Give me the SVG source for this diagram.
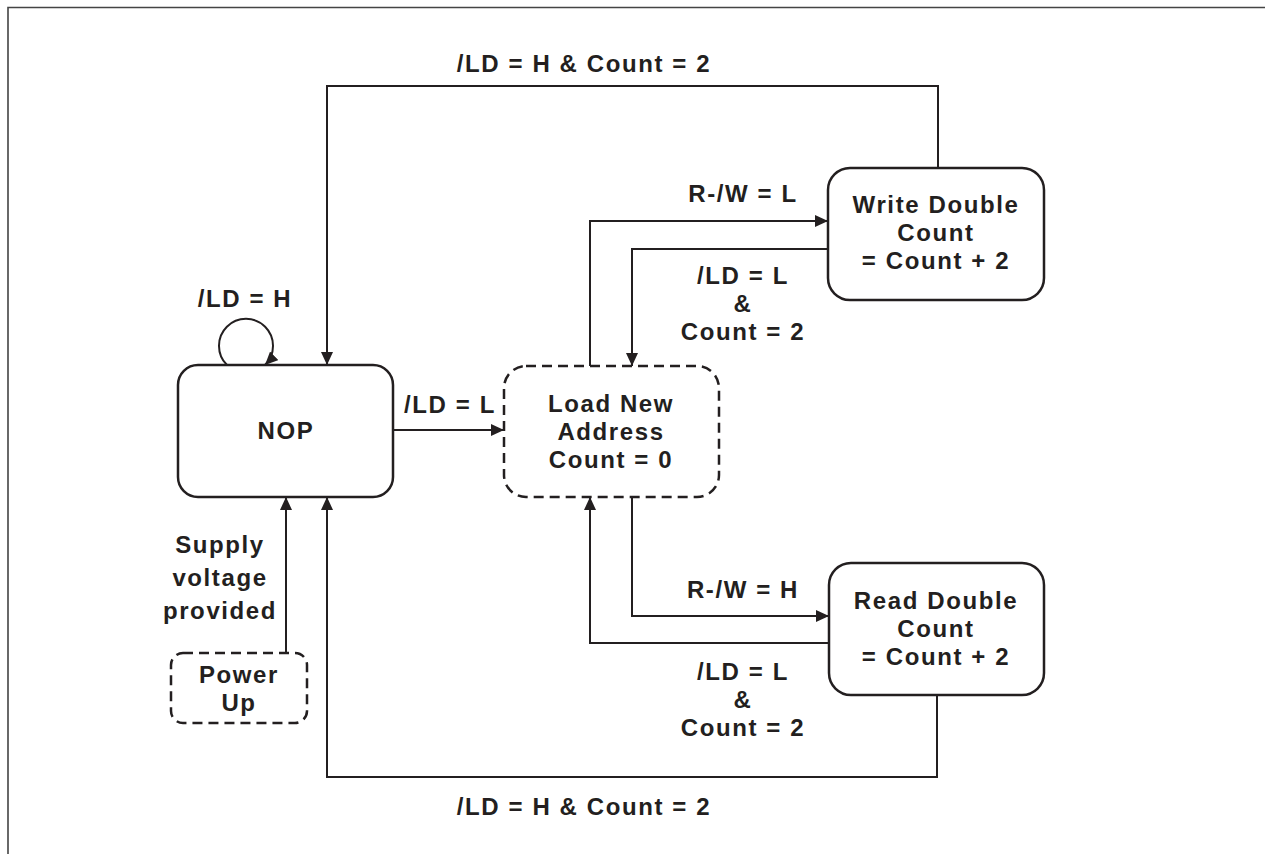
<svg xmlns="http://www.w3.org/2000/svg" width="1265" height="854" viewBox="0 0 1265 854">
<style>
.t{font-family:"Liberation Sans",Arial,sans-serif;font-weight:bold;font-size:24px;letter-spacing:1.6px;fill:#231f20;text-anchor:middle}
.box{fill:#fff;stroke:#231f20;stroke-width:2.5}
.dash{stroke-dasharray:10 6}
.c{fill:none;stroke:#231f20;stroke-width:2}
</style>
<defs>
<marker id="ah" markerUnits="userSpaceOnUse" markerWidth="13" markerHeight="12" refX="13" refY="6" orient="auto" viewBox="0 0 13 12">
<path d="M0,0 L13,6 L0,12 z" fill="#231f20"/>
</marker>
</defs>
<rect width="1265" height="854" fill="#fff"/>
<path d="M8,854 V7.5 H1265" fill="none" stroke="#444" stroke-width="1.6"/>
<g id="nop">
<rect class="box" x="178" y="365" width="215" height="132" rx="20"/>
<text class="t" x="286" y="439">NOP</text>
</g>
<g id="load">
<rect class="box dash" x="504" y="366" width="215" height="131" rx="22"/>
<text class="t" x="611" y="412">Load New<tspan x="611" dy="28">Address</tspan><tspan x="611" dy="28">Count = 0</tspan></text>
</g>
<g id="write">
<rect class="box" x="828" y="168" width="216" height="132" rx="22"/>
<text class="t" x="936" y="213">Write Double<tspan x="936" dy="28">Count</tspan><tspan x="936" dy="28">= Count + 2</tspan></text>
</g>
<g id="read">
<rect class="box" x="829" y="563" width="215" height="132" rx="22"/>
<text class="t" x="936" y="609">Read Double<tspan x="936" dy="28">Count</tspan><tspan x="936" dy="28">= Count + 2</tspan></text>
</g>
<g id="powerup">
<rect class="box dash" x="171" y="653" width="136" height="70" rx="12"/>
<text class="t" x="239" y="683">Power<tspan x="239" dy="28">Up</tspan></text>
</g>
<g id="connectors">
<path class="c" d="M938,168 V86 H327 V365" marker-end="url(#ah)"/>
<path class="c" d="M227,365 A27,27 0 1,1 265,365" marker-end="url(#ah)"/>
<path class="c" d="M393,430 H504" marker-end="url(#ah)"/>
<path class="c" d="M590,366 V221 H828" marker-end="url(#ah)"/>
<path class="c" d="M828,249 H632 V366" marker-end="url(#ah)"/>
<path class="c" d="M632,497 V616 H829" marker-end="url(#ah)"/>
<path class="c" d="M829,643 H590 V497" marker-end="url(#ah)"/>
<path class="c" d="M937,695 V777 H327 V497" marker-end="url(#ah)"/>
<path class="c" d="M286,653 V497" marker-end="url(#ah)"/>
<text class="t" x="584" y="72">/LD = H &amp; Count = 2</text>
<text class="t" x="584" y="815">/LD = H &amp; Count = 2</text>
<text class="t" x="245" y="307">/LD = H</text>
<text class="t" x="450" y="413">/LD = L</text>
<text class="t" x="743" y="202">R-/W = L</text>
<text class="t" x="743" y="284">/LD = L<tspan x="743" dy="28">&amp;</tspan><tspan x="743" dy="28">Count = 2</tspan></text>
<text class="t" x="743" y="598">R-/W = H</text>
<text class="t" x="743" y="680">/LD = L<tspan x="743" dy="28">&amp;</tspan><tspan x="743" dy="28">Count = 2</tspan></text>
<text class="t" x="220" y="553">Supply<tspan x="220" dy="33">voltage</tspan><tspan x="220" dy="33">provided</tspan></text>
</g>
</svg>
